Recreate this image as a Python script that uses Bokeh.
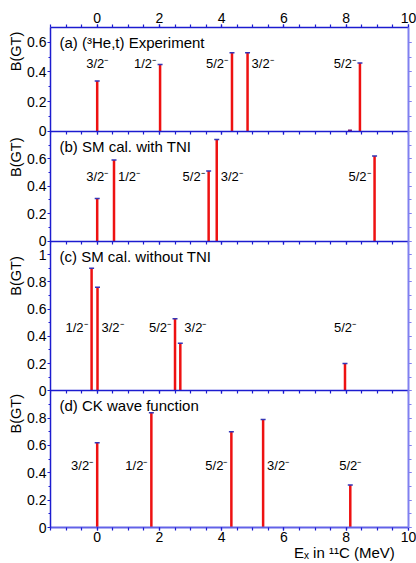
from bokeh.plotting import figure
from bokeh.models import (Range1d, LinearAxis, FixedTicker, SingleIntervalTicker, Label,
                          CustomJSTickFormatter, ColumnDataSource)
from bokeh.core.properties import value
from bokeh.embed import file_html
from bokeh.resources import INLINE

# ---------------- data ----------------
energy_exp = [0.0, 2.02, 4.33, 4.83, 8.44]
bgt_exp = [0.34, 0.45, 0.53, 0.53, 0.46]
spin_exp = ["3/2", "1/2", "5/2", "3/2", "5/2"]
energy_exp_weak = [8.12]
bgt_exp_weak = [0.005]

energy_tni = [0.0, 0.54, 3.58, 3.84, 8.91]
bgt_tni = [0.31, 0.59, 0.51, 0.74, 0.62]
spin_tni = ["3/2", "1/2", "5/2", "3/2", "5/2"]

energy_notni = [-0.18, 0.01, 2.50, 2.67, 7.96]
bgt_notni = [0.90, 0.76, 0.53, 0.35, 0.20]
spin_notni = ["1/2", "3/2", "5/2", "3/2", "5/2"]

energy_ck = [0.0, 1.74, 4.31, 5.33, 8.13]
bgt_ck = [0.62, 0.84, 0.70, 0.79, 0.31]
spin_ck = ["3/2", "1/2", "5/2", "3/2", "5/2"]

panel_titles = ["(a) (\u00b3He,t) Experiment", "(b) SM cal. with TNI",
                "(c) SM cal. without TNI", "(d) CK wave function"]
y_title = "B(GT)"
x_title = "E\u2093 in \u00b9\u00b9C (MeV)"

# ---------------- layout / style ----------------
FONT = "Liberation Sans"
XMIN, XMAX = -1.5, 10.0
W, HGT = 416, 563
BORDER_L, BORDER_R, BORDER_T, BORDER_B = 50, 8, 27, 35
# spin-label placement: l = left of the line, r = right of it, c = centred
sides = [["c", "l", "l", "r", "l"],
         ["c", "r", "l", "r", "l"],
         ["l", "r", "l", "r", "c"],
         ["l", "l", "l", "r", "c"]]
vmax = [0.7, 0.8, 1.1, 1.0]
heights = [104, 110, 150, 137]
label_y = [0.455, 0.47, 0.465, 0.454]
bgt_off = [24, 26, 35, 23]
x_title_center = 7.94

AX_DARK = "#1c1cd0"
AX_BOTTOM = "#6262e8"
AX_RIGHT = "#8080f0"
BAR = "#ee1111"
CAP = "#3535b5"

H = sum(heights)
bottoms = []
acc = H
for h in heights:
    acc -= h
    bottoms.append(acc)

p = figure(x_range=Range1d(XMIN, XMAX), y_range=Range1d(0, H),
           width=W, height=HGT,
           min_border_left=BORDER_L, min_border_right=BORDER_R,
           min_border_top=BORDER_T, min_border_bottom=BORDER_B,
           x_axis_location=None, y_axis_location=None,
           output_backend="svg", toolbar_location=None)
p.outline_line_color = None
p.grid.visible = False
p.border_fill_color = "white"

xs = [energy_exp, energy_tni, energy_notni, energy_ck]
bs = [bgt_exp, bgt_tni, bgt_notni, bgt_ck]
js = [spin_exp, spin_tni, spin_notni, spin_ck]

blank = CustomJSTickFormatter(code="return ''")


def style_axis(ax, color, width, tick_out, minor_out, tick_color=None, standoff=2,
               font_size="14px"):
    tc = tick_color or color
    ax.axis_line_color = color
    ax.axis_line_width = width
    ax.major_tick_line_color = tc
    ax.minor_tick_line_color = tc
    ax.major_tick_line_width = 1.2
    ax.minor_tick_line_width = 1.2
    ax.major_tick_out = tick_out
    ax.major_tick_in = 0
    ax.minor_tick_out = minor_out
    ax.minor_tick_in = 0
    ax.major_label_text_font = FONT
    ax.major_label_text_font_size = font_size
    ax.major_label_text_color = "black"
    ax.major_label_standoff = standoff


# y ticks of all panels, mapped to the stacked frame
y_major, y_minor, bgt_pos = [], [], []
for i in range(4):
    y0, ph, vm = bottoms[i], heights[i], vmax[i]
    for k in range(20):
        v = k * 0.2
        if v < vm - 0.05:
            y_major.append(y0 + v / vm * ph)
    for k in range(40):
        v = k * 0.1
        if v < vm - 0.005:
            y_minor.append(y0 + v / vm * ph)
    bgt_pos.append(y0 + ph - bgt_off[i])

yfmt = CustomJSTickFormatter(args=dict(b=bottoms, h=heights, m=vmax), code="""
for (let i = 0; i < b.length; i++) {
  if (tick >= b[i] - 0.01 && tick < b[i] + h[i] - 0.01) {
    const v = (tick - b[i]) / h[i] * m[i];
    return String(Math.round(v * 10) / 10);
  }
}
return '';
""")

left = LinearAxis(ticker=FixedTicker(ticks=y_major, minor_ticks=y_minor), formatter=yfmt)
style_axis(left, AX_DARK, 1.5, 3, 2, standoff=1)
p.add_layout(left, "left")

left_title = LinearAxis(ticker=FixedTicker(ticks=bgt_pos, minor_ticks=[]),
                        formatter=CustomJSTickFormatter(args=dict(t=y_title), code="return t"))
style_axis(left_title, None, 1, 0, 0, standoff=0, font_size="14.5px")
left_title.major_label_orientation = "vertical"
p.add_layout(left_title, "left")

right = LinearAxis(ticker=FixedTicker(ticks=y_major, minor_ticks=y_minor), formatter=blank)
style_axis(right, AX_RIGHT, 2, 3, 3, standoff=0)
p.add_layout(right, "right")

for i in range(4):
    name = "p%d" % i
    y0, ph, vm = bottoms[i], heights[i], vmax[i]
    u = vm / ph
    p.extra_y_ranges[name] = Range1d(-y0 * u, vm + (H - y0 - ph) * u)

    src = ColumnDataSource(dict(x=xs[i], b=bs[i]))
    p.segment(x0="x", y0=0, x1="x", y1="b", source=src, y_range_name=name,
              line_color=BAR, line_width=2.5)
    p.scatter(x="x", y="b", source=src, y_range_name=name, marker="dash",
              size=5, line_color=CAP, line_width=1.5)

    for side, align, off in (("l", "right", -4), ("r", "left", 4), ("c", "center", 0)):
        idx = [k for k, s in enumerate(sides[i]) if s == side]
        if not idx:
            continue
        p.text(x=[xs[i][k] for k in idx], y=[label_y[i]] * len(idx),
               text=[js[i][k] + "\u207b" for k in idx],
               y_range_name=name, text_align=align, text_baseline="middle",
               x_offset=off, text_font=value(FONT), text_font_size="13px",
               text_color="black")

    p.add_layout(Label(x=XMIN, x_offset=9, y=y0 + ph - 15, text=panel_titles[i],
                       text_font=FONT, text_font_size="15px",
                       text_baseline="middle", text_color="black"))

# weak experimental state
src_w = ColumnDataSource(dict(x=energy_exp_weak, b=bgt_exp_weak))
p.segment(x0="x", y0=0, x1="x", y1="b", source=src_w, y_range_name="p0",
          line_color=BAR, line_width=2.5)
p.scatter(x="x", y="b", source=src_w, y_range_name="p0", marker="dash",
          size=4, line_color="#7a1a6a", line_width=2)

top = LinearAxis(ticker=SingleIntervalTicker(interval=2, num_minor_ticks=4))
style_axis(top, AX_DARK, 1.5, 3, 3, standoff=2)
p.add_layout(top, "above")

bot = LinearAxis(ticker=SingleIntervalTicker(interval=2, num_minor_ticks=4))
style_axis(bot, AX_BOTTOM, 2, 3, 3, tick_color=AX_DARK, standoff=1)
p.add_layout(bot, "below")

bot_title = LinearAxis(ticker=FixedTicker(ticks=[x_title_center], minor_ticks=[]),
                       formatter=CustomJSTickFormatter(args=dict(t=x_title), code="return t"))
style_axis(bot_title, None, 1, 0, 0, standoff=-1, font_size="15px")
p.add_layout(bot_title, "below")

for yb in bottoms[:-1]:
    mid = LinearAxis(fixed_location=yb, formatter=blank,
                     ticker=SingleIntervalTicker(interval=2, num_minor_ticks=4))
    style_axis(mid, AX_DARK, 1.5, 3, 3, standoff=0)
    p.add_layout(mid, "below")

open("out.html", "w").write(file_html(p, INLINE))
